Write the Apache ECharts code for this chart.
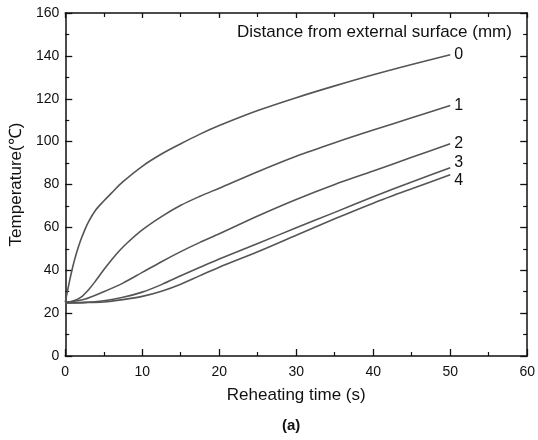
<!DOCTYPE html>
<html>
<head>
<meta charset="utf-8">
<script src="https://cdn.jsdelivr.net/npm/echarts@6/dist/echarts.min.js"></script>
<style>html,body{margin:0;padding:0;background:#fff}#c{width:538px;height:440px}</style>
</head>
<body>
<div id="c"></div>
<script>
const seriesNames = ['0', '1', '2', '3', '4'];
const curve0 = [[0,25],[0.5,34],[1,42],[1.5,48.5],[2,54],[2.5,58.5],[3,62.5],[4,68.3],[5,72.3],[6,76],[7.5,81.3],[10,88.5],[12.5,94.2],[15,99],[17.5,103.5],[20,107.5],[25,114.5],[30,120.5],[35,126],[40,131.2],[45,136],[50,140.5]];
const curve1 = [[0,25],[1,25.6],[2,27.3],[3,30.8],[4,35.3],[5,40.2],[6,44.8],[7,49],[8,52.6],[10,58.8],[12.5,65],[15,70.3],[17.5,74.5],[20,78.3],[25,86],[30,93.2],[35,99.5],[40,105.4],[45,111.1],[50,116.8]];
const curve2 = [[0,25],[2.5,26.5],[5,30],[7.5,34],[10,39],[12.5,44],[15,48.7],[17.5,53],[20,57],[25,65.3],[30,73],[35,80],[40,86.3],[45,92.7],[50,99]];
const curve3 = [[0,24.8],[2.5,25],[5,25.8],[7.5,27.4],[10,29.8],[12.5,33.3],[15,37.4],[17.5,41.4],[20,45.3],[25,52.5],[30,59.8],[35,67],[40,74.3],[45,81.2],[50,87.8]];
const curve4 = [[0,24.8],[2.5,24.9],[5,25.2],[7.5,26.3],[10,27.8],[12.5,30.2],[15,33.5],[17.5,37.5],[20,41.4],[25,48.6],[30,56.3],[35,64],[40,71.3],[45,78],[50,84.5]];
const curves = [curve0, curve1, curve2, curve3, curve4];
const labelOffsets = [[0,0],[0,0],[0,0],[0,-5],[0,6]];
const xTicks = [0, 10, 20, 30, 40, 50, 60];
const yTicks = [0, 20, 40, 60, 80, 100, 120, 140, 160];

const chart = echarts.init(document.getElementById('c'), null, {renderer: 'canvas'});
const font = 'Arial, "Liberation Sans", Helvetica, sans-serif';
const axisLine = {show: true, onZero: false, lineStyle: {color: '#111', width: 1.5}};
const tickIn = {show: true, inside: true, length: 7, lineStyle: {color: '#111', width: 1.3}};
const minorIn = {show: true, splitNumber: 2, length: 4, lineStyle: {color: '#111', width: 1.2}};

chart.setOption({
  animation: false,
  backgroundColor: '#fff',
  grid: {left: 65, right: 7, top: 13, bottom: 84},
  xAxis: [{
    type: 'value', min: xTicks[0], max: xTicks[xTicks.length-1], interval: 10, position: 'bottom',
    name: 'Reheating time (s)', nameLocation: 'middle', nameGap: 31,
    nameTextStyle: {fontSize: 17, color: '#111', fontFamily: font},
    axisLine: axisLine, axisTick: tickIn, minorTick: minorIn,
    axisLabel: {fontSize: 14, color: '#111', fontFamily: font, margin: 9},
    splitLine: {show: false}
  }, {
    type: 'value', min: xTicks[0], max: xTicks[xTicks.length-1], interval: 10, position: 'top',
    axisLine: axisLine, axisTick: Object.assign({}, tickIn, {length: 5}), minorTick: minorIn,
    axisLabel: {show: false}, splitLine: {show: false}
  }],
  yAxis: [{
    type: 'value', min: yTicks[0], max: yTicks[yTicks.length-1], interval: 20, position: 'left',
    name: 'Temperature(℃)', nameLocation: 'middle', nameGap: 36,
    nameTextStyle: {fontSize: 17, color: '#111', fontFamily: font},
    axisLine: axisLine, axisTick: tickIn, minorTick: minorIn,
    axisLabel: {fontSize: 14, color: '#111', fontFamily: font, margin: 6},
    splitLine: {show: false}
  }, {
    type: 'value', min: yTicks[0], max: yTicks[yTicks.length-1], interval: 20, position: 'right',
    axisLine: axisLine, axisTick: tickIn, minorTick: minorIn,
    axisLabel: {show: false}, splitLine: {show: false}
  }],
  graphic: [{
    type: 'text', left: 237, top: 24,
    style: {text: 'Distance from external surface (mm)', font: '17px ' + font, fill: '#111'}
  }, {
    type: 'text', left: 282, top: 418,
    style: {text: '(a)', font: 'bold 15px ' + font, fill: '#111'}
  }],
  series: curves.map((d, i) => ({
    type: 'line', name: seriesNames[i], data: d, smooth: 0.3, showSymbol: false,
    xAxisIndex: 0, yAxisIndex: 0,
    lineStyle: {color: '#555', width: 1.6},
    endLabel: {show: true, formatter: '{a}', distance: 4, offset: labelOffsets[i],
      fontSize: 16, color: '#111', fontFamily: font}
  }))
});
</script>
</body>
</html>
